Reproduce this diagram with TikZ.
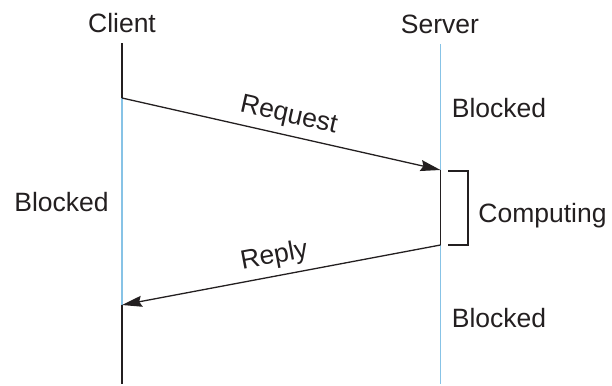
\documentclass[tikz,border=0pt]{standalone}
\usepackage{fontspec}
\setmainfont{Liberation Sans}
\usetikzlibrary{arrows.meta}
\definecolor{lifeblue}{RGB}{135,195,230}
\definecolor{ink}{RGB}{35,31,32}
\begin{document}
\begin{tikzpicture}[x=1bp,y=-1bp,
  lbl/.style={inner sep=0pt,text=ink,font=\fontsize{26.5bp}{30bp}\selectfont},
  active/.style={draw=ink,line width=1.4bp},
  idle/.style={draw=lifeblue,line width=1.6bp},
  msg/.style={draw=ink,line width=1.3bp,-{Stealth[length=20bp,width=11bp,inset=2.5bp]}},
  msglbl/.style={lbl,sloped,above=6.5bp}]
\useasboundingbox (0,0) rectangle (612,385);
% headers
\node[lbl,anchor=base] (client) at (122,32) {Client};
\node[lbl,anchor=base] (server) at (440,33) {Server};
% lifeline points
\coordinate (c0) at (122,43);
\coordinate (c1) at (122,98);
\coordinate (c2) at (122,305);
\coordinate (c3) at (122,384);
\coordinate (s0) at (440.5,44);
\coordinate (s1) at (440.5,170);
\coordinate (s2) at (440.5,245);
\coordinate (s3) at (440.5,384);
% lifelines
\draw[idle] (c1) -- (c2);
\draw[idle] (s0) -- (s1);
\draw[idle] (s2) -- (s3);
\draw[active] (c0) -- (c1);
\draw[active] (c2) -- (c3);
\draw[active] (s1) -- (s2);
% messages
\draw[msg] (c1) -- node[msglbl,pos=0.51] (req) {Request} (s1);
\draw[msg] (s2) -- node[msglbl,pos=0.51] (rep) {Reply} (c2);
% computing bracket
\coordinate (b0) at (448,171);
\coordinate (b1) at (468,171);
\coordinate (b2) at (468,245);
\coordinate (b3) at (448,245);
\draw[active] (b0) -- (b1) -- (b2) -- (b3);
% state labels
\node[lbl,anchor=base] (cblk) at (61.5,211) {Blocked};
\node[lbl,anchor=base] (sblk1) at (499,117) {Blocked};
\node[lbl,anchor=base] (comp) at (542.5,222) {Computing};
\node[lbl,anchor=base] (sblk2) at (499,327) {Blocked};
\end{tikzpicture}
\end{document}
